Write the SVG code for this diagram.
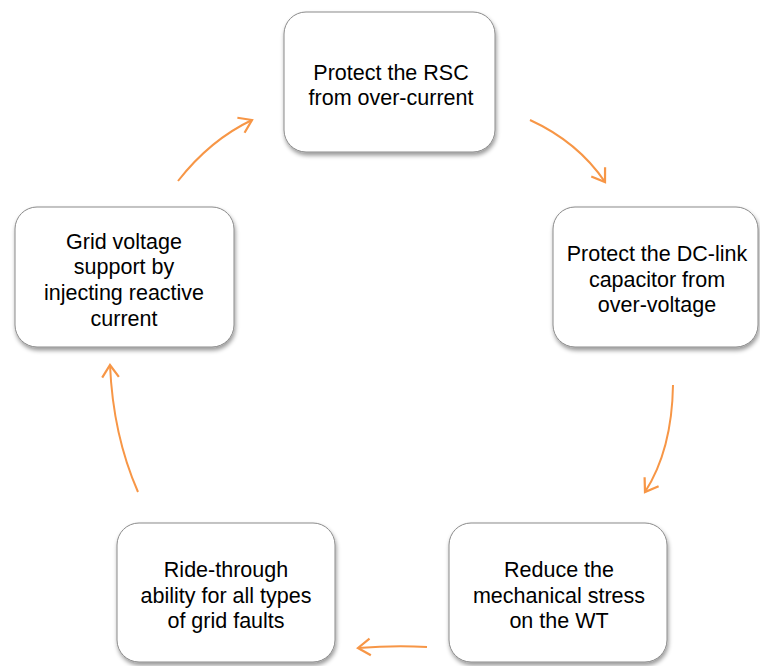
<svg xmlns="http://www.w3.org/2000/svg" width="760" height="666" viewBox="0 0 760 666">
  <style>
    .box { fill: #ffffff; stroke: #8a8a8a; stroke-width: 1; filter: url(#shadow); }
    .label { font-family: "Liberation Sans", Arial, sans-serif; font-size: 21.5px; fill: #000000; text-anchor: middle; }
    .flow { fill: none; stroke: #F79646; stroke-width: 2; marker-end: url(#head); }
  </style>
  <defs>
    <filter id="shadow" x="-10%" y="-10%" width="125%" height="130%">
      <feDropShadow dx="1" dy="3" stdDeviation="2" flood-color="#000000" flood-opacity="0.4"/>
    </filter>
    <marker id="head" markerUnits="userSpaceOnUse" markerWidth="20" markerHeight="20" refX="0" refY="0" viewBox="-13 -9 15 18" orient="auto">
      <path d="M-11,-7.5 L0,0 L-11,7.5" fill="none" stroke="#F79646" stroke-width="2"/>
    </marker>
  </defs>
  <rect width="760" height="666" fill="#ffffff"/>

  <g id="connectors">
    <path class="flow" d="M530,120 Q578,142 605,182"/>
    <path class="flow" d="M673,385 Q672,450 645,492"/>
    <path class="flow" d="M427,647 Q395,645 358,648"/>
    <path class="flow" d="M138,492 Q113,435 110,365"/>
    <path class="flow" d="M178,181 Q210,140 252,120"/>
  </g>

  <g id="node-rsc">
    <rect class="box" x="284" y="12" width="211" height="140" rx="22"/>
    <text class="label" x="391" y="80">Protect the RSC</text>
    <text class="label" x="391" y="105">from over-current</text>
  </g>

  <g id="node-dclink">
    <rect class="box" x="553" y="207" width="205" height="140" rx="22"/>
    <text class="label" x="657" y="261">Protect the DC-link</text>
    <text class="label" x="657" y="287">capacitor from</text>
    <text class="label" x="657" y="312">over-voltage</text>
  </g>

  <g id="node-stress">
    <rect class="box" x="449" y="523" width="218" height="139" rx="22"/>
    <text class="label" x="559" y="577">Reduce the</text>
    <text class="label" x="559" y="603">mechanical stress</text>
    <text class="label" x="559" y="628">on the WT</text>
  </g>

  <g id="node-ridethrough">
    <rect class="box" x="117" y="523" width="218" height="139" rx="22"/>
    <text class="label" x="226" y="577">Ride-through</text>
    <text class="label" x="226" y="603">ability for all types</text>
    <text class="label" x="226" y="628">of grid faults</text>
  </g>

  <g id="node-gridsupport">
    <rect class="box" x="15" y="207" width="219" height="140" rx="22"/>
    <text class="label" x="124" y="249">Grid voltage</text>
    <text class="label" x="124" y="274">support by</text>
    <text class="label" x="124" y="300">injecting reactive</text>
    <text class="label" x="124" y="326">current</text>
  </g>
</svg>
